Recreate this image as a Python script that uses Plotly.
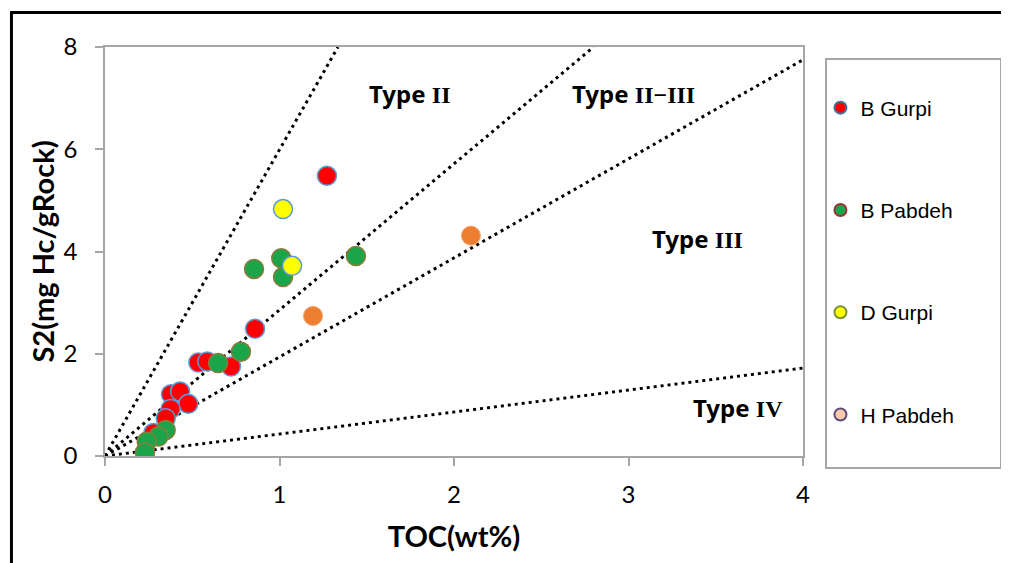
import plotly.graph_objects as go

# ---- data ----
b_gurpi_toc = [1.272, 0.86, 0.535, 0.586, 0.722, 0.378, 0.43, 0.477, 0.376, 0.348, 0.277]
b_gurpi_s2 = [5.48, 2.49, 1.83, 1.85, 1.75, 1.21, 1.26, 1.02, 0.92, 0.74, 0.45]

b_pabdeh_toc = [0.854, 1.01, 1.02, 1.438, 0.779, 0.648, 0.348, 0.306, 0.239, 0.229]
b_pabdeh_s2 = [3.66, 3.87, 3.50, 3.91, 2.04, 1.82, 0.51, 0.38, 0.28, 0.07]

d_gurpi_toc = [1.02, 1.072]
d_gurpi_s2 = [4.83, 3.72]

orange_toc = [2.097, 1.192]
orange_s2 = [4.31, 2.74]

# kerogen-type boundary lines (TOC, S2 endpoints)
line_toc = [[0, 1.335], [0, 2.80], [0, 4.0], [0, 4.0]]
line_s2 = [[0, 8.0], [0, 8.0], [0, 7.75], [0, 1.72]]

type_labels = ["Type <span style='font-family:Liberation Serif'>II</span>",
               "Type <span style='font-family:Liberation Serif'>II−III</span>",
               "Type <span style='font-family:Liberation Serif'>III</span>",
               "Type <span style='font-family:Liberation Serif'>IV</span>"]
type_x = [1.748, 3.03, 3.398, 3.63]
type_y = [7.10, 7.10, 4.26, 0.94]

x_ticks = [0, 1, 2, 3, 4]
y_ticks = [0, 2, 4, 6, 8]

fig = go.Figure()

for lx, ly in zip(line_toc, line_s2):
    fig.add_trace(go.Scatter(x=lx, y=ly, mode="lines", showlegend=False, hoverinfo="skip",
                             line=dict(color="black", width=3, dash="3px,4px")))

series = [
    ("B Gurpi", b_gurpi_toc, b_gurpi_s2, "#FF0000", "#5B9BD5"),
    ("B Pabdeh", b_pabdeh_toc, b_pabdeh_s2, "#1BA54A", "#8B7B3B"),
    ("D Gurpi", d_gurpi_toc, d_gurpi_s2, "#FFFF00", "#5B9BD5"),
]
for name, xs, ys, fill, border in series:
    fig.add_trace(go.Scatter(x=xs, y=ys, mode="markers", name=name, legendgroup=name,
                             showlegend=False,
                             marker=dict(size=19, color=fill, line=dict(color=border, width=1.5))))

fig.add_trace(go.Scatter(x=orange_toc, y=orange_s2, mode="markers", name="H Pabdeh",
                         legendgroup="H Pabdeh", showlegend=False,
                         marker=dict(size=19, color="#ED7D31", line=dict(color="#F4A46A", width=1))))

legend_items = [
    ("B Gurpi", "#FF0000", "#41719C"),
    ("B Pabdeh", "#1BA54A", "#943634"),
    ("D Gurpi", "#FFFF00", "#77933C"),
    ("H Pabdeh", "#F8CBAD", "#604A7B"),
]
for name, fill, border in legend_items:
    fig.add_trace(go.Scatter(x=[None], y=[None], mode="markers", name=name, legendgroup=name,
                             marker=dict(size=12, color=fill, line=dict(color=border, width=2))))

for t, x, y in zip(type_labels, type_x, type_y):
    fig.add_annotation(x=x, y=y, text=f"<b>{t}</b>", showarrow=False,
                       font=dict(family="Noto Sans", size=24, color="black"))

# outer frame lines and legend box
fig.add_shape(type="line", xref="paper", yref="paper", x0=-0.134, x1=-0.134, y0=-0.3, y1=1.0844,
              line=dict(color="black", width=3))
fig.add_shape(type="line", xref="paper", yref="paper", x0=-0.136, x1=1.3, y0=1.0844, y1=1.0844,
              line=dict(color="black", width=3))
fig.add_shape(type="rect", xref="paper", yref="paper", x0=1.033, x1=1.2837, y0=-0.0293, y1=0.9707,
              line=dict(color="#A6A6A6", width=2), fillcolor="rgba(0,0,0,0)")

axis_common = dict(showgrid=False, zeroline=False, showline=True, linecolor="#A6A6A6", linewidth=1.5,
                   mirror=True, ticks="outside", ticklen=8, tickcolor="#A6A6A6", tickwidth=1.5,
                   tickfont=dict(family="Lato", size=24, color="black"))

fig.update_layout(
    width=1001, height=555,
    margin=dict(l=97, r=206, t=39, b=107),
    paper_bgcolor="white", plot_bgcolor="white",
    xaxis=dict(range=[0, 4], tickvals=x_ticks, ticklabelstandoff=8,
               title=dict(text="<b>TOC(wt%)</b>", font=dict(family="Lato", size=29, color="black"), standoff=20),
               **axis_common),
    yaxis=dict(range=[0, 8], tickvals=y_ticks, ticklabelstandoff=13,
               title=dict(text="<b>S2(mg Hc/gRock)</b>", font=dict(family="Lato", size=29, color="black"), standoff=0),
               **axis_common),
    legend=dict(x=1.025, xanchor="left", y=0.901, yanchor="top", tracegroupgap=72,
                font=dict(family="Liberation Sans", size=21, color="black"),
                bgcolor="rgba(0,0,0,0)", borderwidth=0, itemsizing="trace"),
)

fig.write_html("out.html")
